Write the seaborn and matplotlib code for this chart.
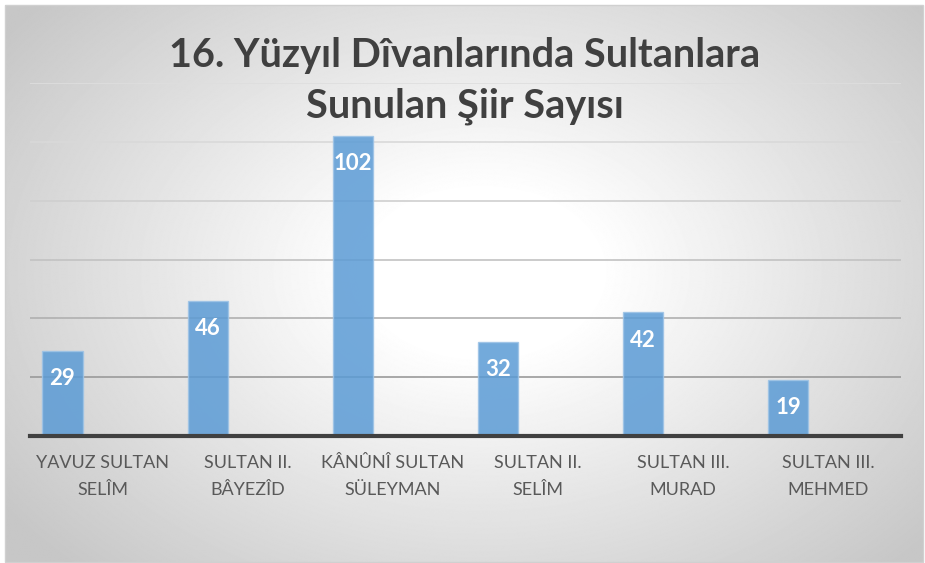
import numpy as np
import pandas as pd
import seaborn as sns
import matplotlib.pyplot as plt
from matplotlib.patches import Rectangle

# data
sultans = ['YAVUZ SULTAN\nSELÎM', 'SULTAN II.\nBÂYEZÎD', 'KÂNÛNÎ SULTAN\nSÜLEYMAN',
           'SULTAN II.\nSELÎM', 'SULTAN III.\nMURAD', 'SULTAN III.\nMEHMED']
poem_counts = [29, 46, 102, 32, 42, 19]
series_names = ['Seri 1', 'Seri 2', 'Seri 3']  # only the first series has values
title_text = '16. Yüzyıl Dîvanlarında Sultanlara\nSunulan Şiir Sayısı'

df = pd.DataFrame({'sultan': sultans, 'count': poem_counts, 'series': series_names[0]})

sns.set_theme(style='white')
plt.rcParams['font.family'] = ['Lato', 'DejaVu Sans']

W, H = 925, 563
fig = plt.figure(figsize=(W / 100, H / 100), dpi=100)
fig.patch.set_facecolor('white')

# radial grey -> white background like the excel chart area
bg = fig.add_axes([0, 0, 1, 1])
bg.set_xlim(0, W)
bg.set_ylim(H, 0)
bg.axis('off')
yy, xx = np.mgrid[0:H, 0:W]
r = np.sqrt(((xx - 480) / 470.0) ** 2 + ((yy - 270) / 330.0) ** 2)
shade = 1 - 0.22 * np.clip((r - 0.25) / 1.0, 0, 1)
bg.imshow(shade, cmap='gray', vmin=0, vmax=1, extent=(5, 923, 562, 5), aspect='auto', zorder=0)
bg.add_patch(Rectangle((5, 5), 918, 557, fill=False, edgecolor='#d0d0d0', linewidth=1, zorder=1))

ax = fig.add_axes([30 / W, 1 - 436 / H, (901 - 30) / W, (436 - 83) / H])
ax.set_facecolor('none')

sns.barplot(data=df, x='sultan', y='count', hue='series', hue_order=series_names,
            palette={s: '#5b9bd5' for s in series_names}, width=0.83, dodge=True,
            saturation=1, edgecolor='#9dc3e6', linewidth=1, alpha=0.85,
            legend=False, ax=ax, zorder=3)

ax.set_ylim(0, 120)
ax.set_yticks(range(0, 121, 20))
ax.set_yticklabels([])
ax.tick_params(axis='y', length=0)
ax.tick_params(axis='x', length=0, pad=14, labelsize=13, labelcolor='#595959')
for lbl in ax.get_xticklabels():
    lbl.set_linespacing(1.8)
ax.set_xlabel('')
ax.set_ylabel('')

ax.grid(axis='y', linewidth=1.2, zorder=0)
grid_colors = ['none', '#9a9a9a', '#b0b0b0', '#c2c2c2', '#cfcfcf', '#d9d9d9', '#dedede']
for line, c in zip(ax.get_ygridlines(), grid_colors):
    line.set_color(c)
ax.set_axisbelow(True)

for side in ['top', 'left', 'right']:
    ax.spines[side].set_visible(False)
ax.spines['bottom'].set_color('#404040')
ax.spines['bottom'].set_linewidth(3)
ax.spines['bottom'].set_zorder(5)

for bar in ax.containers[0]:
    ax.annotate(f'{bar.get_height():.0f}', xy=(bar.get_x() + bar.get_width() / 2, bar.get_height()),
                xytext=(0, -20), textcoords='offset points', ha='center', va='center',
                color='white', fontsize=16, fontweight='bold', zorder=6)

fig.text(465 / W, 1 - 81 / H, title_text, ha='center', va='center', fontsize=28.5,
         fontweight='bold', color='#404040', linespacing=1.42)

fig.savefig('out.png', dpi=100)
